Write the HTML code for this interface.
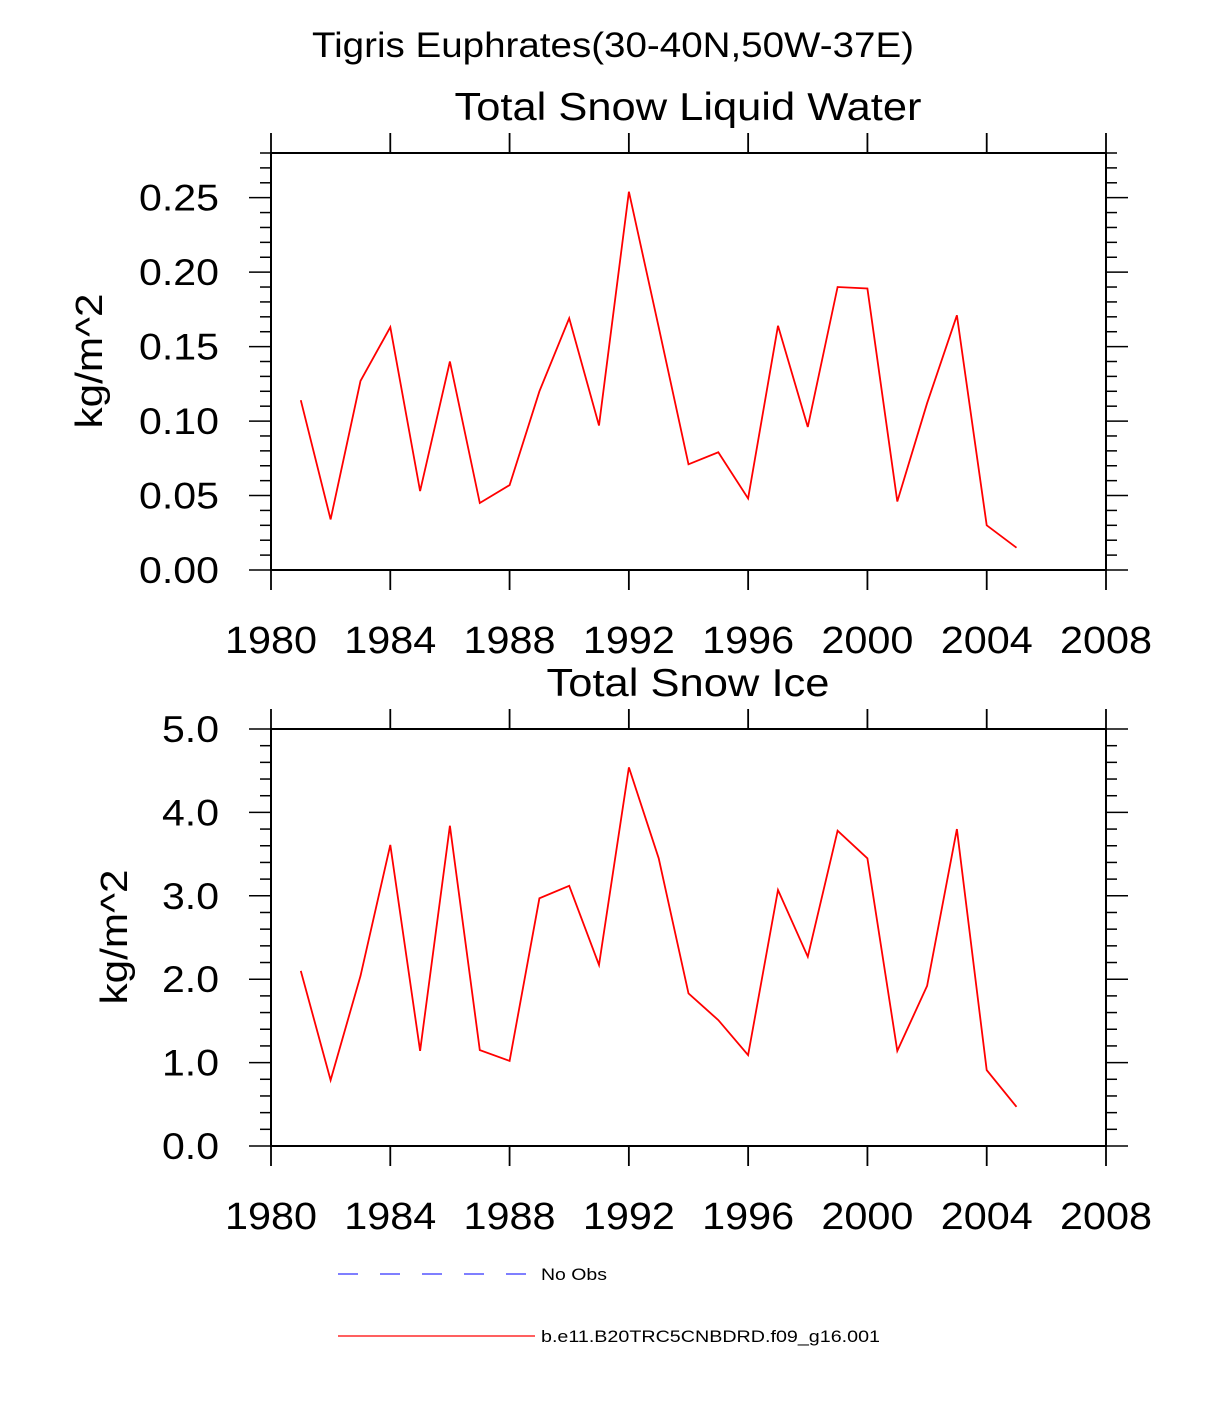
<!DOCTYPE html>
<html><head><meta charset="utf-8"><style>
body{margin:0;background:#fff}
svg{display:block;font-family:"Liberation Sans",sans-serif}
</style></head><body>
<svg id="c" width="1224" height="1404" viewBox="0 0 1224 1404">
<text x="613" y="57" font-size="35" text-anchor="middle" textLength="602" lengthAdjust="spacingAndGlyphs">Tigris Euphrates(30-40N,50W-37E)</text>
<g id="p1"></g>
<g id="p2"></g>
<line x1="338" y1="1274" x2="527" y2="1274" stroke="#3333ff" stroke-width="1.2" stroke-dasharray="20,22"/>
<text x="541" y="1280" font-size="17" textLength="66" lengthAdjust="spacingAndGlyphs">No Obs</text>
<line x1="338" y1="1336" x2="535" y2="1336" stroke="#ff0000" stroke-width="1.2"/>
<text x="541" y="1342" font-size="17" textLength="339" lengthAdjust="spacingAndGlyphs">b.e11.B20TRC5CNBDRD.f09_g16.001</text>
</svg>
<script>
const years=[1981,1982,1983,1984,1985,1986,1987,1988,1989,1990,1991,1992,1993,1994,1995,1996,1997,1998,1999,2000,2001,2002,2003,2004,2005];
const liquidWater=[0.114,0.034,0.127,0.163,0.053,0.140,0.045,0.057,0.120,0.169,0.097,0.254,0.163,0.071,0.079,0.048,0.164,0.096,0.190,0.189,0.046,0.112,0.171,0.030,0.015];
const snowIce=[2.10,0.79,2.04,3.61,1.14,3.84,1.15,1.02,2.97,3.12,2.17,4.54,3.45,1.83,1.51,1.09,3.07,2.27,3.78,3.45,1.14,1.92,3.80,0.91,0.47];
const xTicks=[1980,1984,1988,1992,1996,2000,2004,2008];
const yTicks1=["0.00","0.05","0.10","0.15","0.20","0.25"];
const yTicks2=["0.0","1.0","2.0","3.0","4.0","5.0"];
const NS="http://www.w3.org/2000/svg";
function mk(p,t,a){const e=document.createElementNS(NS,t);for(const k in a)e.setAttribute(k,a[k]);p.appendChild(e);return e;}
const L=271,R=1106;
const xs=y=>L+(y-1980)*(R-L)/28;
function panel(g,top,bot,ymax,minorStep,majorStep,labels,data,title,name,ylx,ylabW,titleW){
  const ys=v=>bot-v*(bot-top)/ymax;
  const n=Math.round(ymax/minorStep);
  for(let i=0;i<=n;i++){
    const v=i*minorStep,y=ys(v);
    const major=Math.abs(v/majorStep-Math.round(v/majorStep))<1e-6;
    const len=major?22:11;
    let t=mk(g,'line',{x1:L-len,y1:y,x2:L,y2:y,stroke:'#000','stroke-width':1.5});
    
    
    t=mk(g,'line',{x1:R,y1:y,x2:R+len,y2:y,stroke:'#000','stroke-width':1.5});
    
    
  }
  labels.forEach((s,i)=>{
    const t=mk(g,'text',{x:219-ylabW,y:ys(i*majorStep)+13,'font-size':37,textLength:ylabW,lengthAdjust:'spacingAndGlyphs'});
    t.textContent=s;
    
    
  });
  xTicks.forEach(yr=>{
    const x=xs(yr);
    let t=mk(g,'line',{x1:x,y1:top-20,x2:x,y2:top,stroke:'#000','stroke-width':1.8});
    
    
    t=mk(g,'line',{x1:x,y1:bot,x2:x,y2:bot+20,stroke:'#000','stroke-width':1.8});
    
    
    t=mk(g,'text',{x:x-46,y:bot+83,'font-size':38,textLength:92,lengthAdjust:'spacingAndGlyphs'});
    t.textContent=yr;
    
    
  });
  const f=mk(g,'rect',{x:L,y:top,width:R-L,height:bot-top,fill:'none',stroke:'#000','stroke-width':2});
  
  
  const pts=years.map((y,i)=>xs(y).toFixed(1)+','+ys(data[i]).toFixed(1)).join(' ');
  const pl=mk(g,'polyline',{points:pts,fill:'none',stroke:'#ff0000','stroke-width':1.8});
  
  
  const tt=mk(g,'text',{x:688-titleW/2,y:top-33,'font-size':39,textLength:titleW,lengthAdjust:'spacingAndGlyphs'});
  tt.textContent=title;
  
  
  const yl=mk(g,'text',{x:-67,y:0,'font-size':38,textLength:135,lengthAdjust:'spacingAndGlyphs',transform:`translate(${ylx},${(top+bot)/2}) rotate(-90)`});
  yl.textContent='kg/m^2';
  
  
}
panel(document.getElementById('p1'),153,570,0.28,0.01,0.05,yTicks1,liquidWater,'Total Snow Liquid Water','liquid-water',102,80,467);
panel(document.getElementById('p2'),729,1146,5.0,0.2,1.0,yTicks2,snowIce,'Total Snow Ice','snow-ice',127,57,283);
</script>
</body></html>
